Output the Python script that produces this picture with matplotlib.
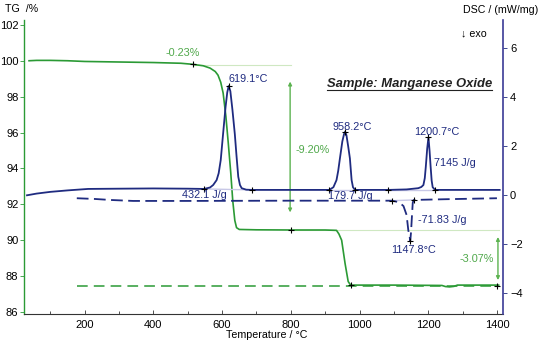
import matplotlib
matplotlib.use("Agg")
import matplotlib.pyplot as plt
from matplotlib.lines import Line2D

plt.rcParams['font.family'] = ['Liberation Sans', 'DejaVu Sans']

# ---- data ----
# TG curve (temperature / degC, mass / %)
tg_t = [38, 60, 100, 150, 200, 300, 400, 480, 515, 545, 565, 580, 588, 596, 603,
        611, 618, 625, 631, 637, 642, 650, 700, 800, 900, 933, 940, 948, 958,
        967, 974, 1000, 1100, 1240, 1250, 1262, 1275, 1285, 1400, 1405]
tg_v = [100.0, 100.02, 100.02, 100.0, 99.96, 99.93, 99.9, 99.86, 99.8, 99.72,
        99.59, 99.4, 99.2, 98.8, 98.2, 96.9, 95.4, 93.8, 92.2, 91.1, 90.7, 90.6,
        90.58, 90.57, 90.57, 90.55, 90.35, 90.0, 88.7, 87.7, 87.5, 87.5, 87.5,
        87.48, 87.42, 87.4, 87.43, 87.5, 87.5, 87.5]

# TG reference (dashed) level
tg_ref_t = [177, 1400]
tg_ref_v = [87.47, 87.47]

# DSC curve (mW/mg)
dsc_t = [32, 60, 100, 150, 210, 300, 400, 500, 548, 565, 574, 584, 590, 596,
         603, 610, 615, 619.1, 624, 630, 637, 642, 647, 652, 657, 670, 686, 800,
         912, 924, 933, 938, 943, 950, 955, 958.2, 962, 967, 972, 977, 981, 987,
         1084, 1137, 1171, 1180, 1186, 1190, 1193, 1197, 1200.7, 1204, 1207,
         1210, 1213, 1220, 1400, 1408]
dsc_v = [0.0, 0.07, 0.14, 0.2, 0.26, 0.27, 0.28, 0.27, 0.26, 0.32, 0.42, 0.62,
         0.9, 1.44, 2.53, 3.6, 4.2, 4.46, 4.25, 3.5, 2.5, 1.6, 0.76, 0.42, 0.29,
         0.23, 0.22, 0.22, 0.22, 0.33, 0.62, 1.0, 1.51, 2.2, 2.5, 2.6, 2.45, 2.0,
         1.51, 0.62, 0.33, 0.22, 0.22, 0.24, 0.29, 0.34, 0.42, 0.7, 1.17, 1.9,
         2.37, 1.8, 1.17, 0.6, 0.33, 0.22, 0.22, 0.22]

# DSC second run (dashed)
dsc2_t = [177, 230, 274, 341, 500, 800, 1000, 1094, 1115, 1128, 1137, 1142,
          1147.8, 1150, 1152, 1155, 1158, 1250, 1400]
dsc2_v = [-0.12, -0.15, -0.19, -0.23, -0.23, -0.22, -0.22, -0.22, -0.28, -0.44,
          -0.8, -1.42, -1.85, -1.5, -1.0, -0.3, -0.19, -0.16, -0.12]

# evaluation markers
tg_mark_t = [515, 800, 974, 1400]
tg_mark_v = [99.8, 90.57, 87.5, 87.47]
dsc_mark_t = [548, 686, 912, 987, 1084, 1220, 619.1, 958.2, 1200.7]
dsc_mark_v = [0.26, 0.22, 0.22, 0.22, 0.22, 0.22, 4.46, 2.6, 2.37]
dsc2_mark_t = [1094, 1158, 1147.8]
dsc2_mark_v = [-0.22, -0.19, -1.85]

# integration baselines (start T, start v, end T, end v)
dsc_base = [(548, 0.26, 686, 0.22), (912, 0.22, 987, 0.22), (1084, 0.22, 1220, 0.22)]
dsc2_base = [(1094, -0.22, 1158, -0.19)]

# mass step levels
step_levels = [(515, 800, 99.77), (800, 1405, 90.57)]
step_arrows = [(798, 98.84, 91.55, "-9.20%", 863, 95.0),
               (1403, 90.18, 87.78, "-3.07%", 1340, 88.94)]

# peak / area labels (T, value, text, ha)
dsc_labels = [(620, 4.75, "619.1°C", "left"),
              (980, 2.8, "958.2°C", "center"),
              (1226, 2.58, "1200.7°C", "center"),
              (1217, 1.33, "7145 J/g", "left"),
              (547, 0.03, "432.1 J/g", "center"),
              (973, -0.03, "179.7 J/g", "center"),
              (1170, -1.02, "-71.83 J/g", "left"),
              (1157, -2.24, "1147.8°C", "center")]

x_ticks = [200, 400, 600, 800, 1000, 1200, 1400]
x_minor = [100, 300, 500, 700, 900, 1100, 1300]
tg_ticks = [86, 88, 90, 92, 94, 96, 98, 100, 102]
dsc_ticks = [-4, -2, 0, 2, 4, 6]

green = '#2b9a35'
green_txt = '#4fa84a'
green_light = '#cfe8c2'
navy = '#1f2b80'
lav = '#c8c8e6'

fig = plt.figure(figsize=(5.4, 3.44), dpi=100)
ax = fig.add_axes([24/540, 1 - 314/344, 479/540, 294/344])
ax2 = ax.twinx()

ax.set_xlim(23.3, 1417.7)
ax.set_ylim(85.89, 102.27)
ax2.set_ylim(-4.845, 7.155)

# TG
for t0, t1, lv in step_levels:
    ax.plot([t0, t1], [lv, lv], color=green_light, lw=0.8, zorder=1)
ax.plot(tg_t, tg_v, color=green, lw=1.2, zorder=3)
ax.plot(tg_ref_t, tg_ref_v, color=green, lw=1.1, dashes=(7, 4), zorder=3)
ax.plot(tg_mark_t, tg_mark_v, '+', color='black', ms=4, mew=0.8, zorder=5)
for xa, y0, y1, txt, tx, ty in step_arrows:
    ax.annotate('', xy=(xa, y1), xytext=(xa, y0),
                arrowprops=dict(arrowstyle='<|-|>', color='#5cb350', lw=1.0,
                                mutation_scale=5, shrinkA=0, shrinkB=0))
    ax.text(tx, ty, txt, color=green_txt, fontsize=7.8, ha='center', va='center')
ax.text(486, 100.45, "-0.23%", color=green_txt, fontsize=7.8, ha='center', va='center')

# DSC
for a, b, c, d in dsc_base + dsc2_base:
    ax2.plot([a, c], [b, d], color=lav, lw=1.0, zorder=1)
ax2.plot(dsc_t, dsc_v, color=navy, lw=1.3, zorder=3)
ax2.plot(dsc2_t, dsc2_v, color=navy, lw=1.3, dashes=(6.5, 3), zorder=3)
ax2.plot(dsc_mark_t + dsc2_mark_t, dsc_mark_v + dsc2_mark_v, '+', color='black',
         ms=4, mew=0.8, zorder=5)
for tx, ty, txt, ha in dsc_labels:
    ax2.text(tx, ty, txt, color=navy, fontsize=7.8, ha=ha, va='center', zorder=6)

# axes styling
ax.set_xticks(x_ticks)
ax.set_xticks(x_minor, minor=True)
ax.set_yticks(tg_ticks)
ax2.set_yticks(dsc_ticks)
ax.tick_params(axis='x', direction='in', length=3, width=0.6, labelsize=8, pad=4,
               colors='#333333', labelcolor='black')
ax.tick_params(axis='x', which='minor', direction='in', length=2, width=0.6,
               colors='#333333')
ax.tick_params(axis='y', direction='out', length=3, width=0.6, labelsize=8, pad=1,
               colors=green, labelcolor='black')
ax2.tick_params(axis='y', direction='out', length=3, width=0.6, labelsize=8, pad=2,
                colors=navy, labelcolor='black')

for s in ['top', 'right']:
    ax.spines[s].set_visible(False)
for s in ['top', 'left', 'bottom']:
    ax2.spines[s].set_visible(False)
ax.spines['left'].set_color(green)
ax.spines['left'].set_linewidth(1.0)
ax.spines['bottom'].set_color('#333333')
ax.spines['bottom'].set_linewidth(0.8)
ax2.spines['right'].set_color('#3b3b96')
ax2.spines['right'].set_linewidth(1.2)

# titles
fig.text(5/540, 1 - 9/344, "TG  /%", fontsize=7.7, ha='left', va='center')
fig.text(538/540, 1 - 10/344, "DSC / (mW/mg)", fontsize=7.7, ha='right', va='center')
fig.text(461/540, 1 - 33/344, "↓ exo", fontsize=7.7, ha='left', va='center')
fig.text(267/540, 1 - 334.5/344, "Temperature / °C", fontsize=7.7, ha='center', va='center')

sample = ax.text(1145, 98.73, "Sample: Manganese Oxide", fontsize=9.4, fontweight='bold',
                 fontstyle='italic', ha='center', va='center', color='#222222')

# underline under the sample label
fig.canvas.draw()
bb = sample.get_window_extent()
inv = fig.transFigure.inverted()
(x0, y0), (x1, _) = inv.transform([(bb.x0, bb.y0 - 0.5), (bb.x1, bb.y0)])
fig.add_artist(Line2D([x0, x1], [y0, y0], transform=fig.transFigure,
                      color='#222222', lw=0.8))

fig.savefig("out.png", dpi=100)
